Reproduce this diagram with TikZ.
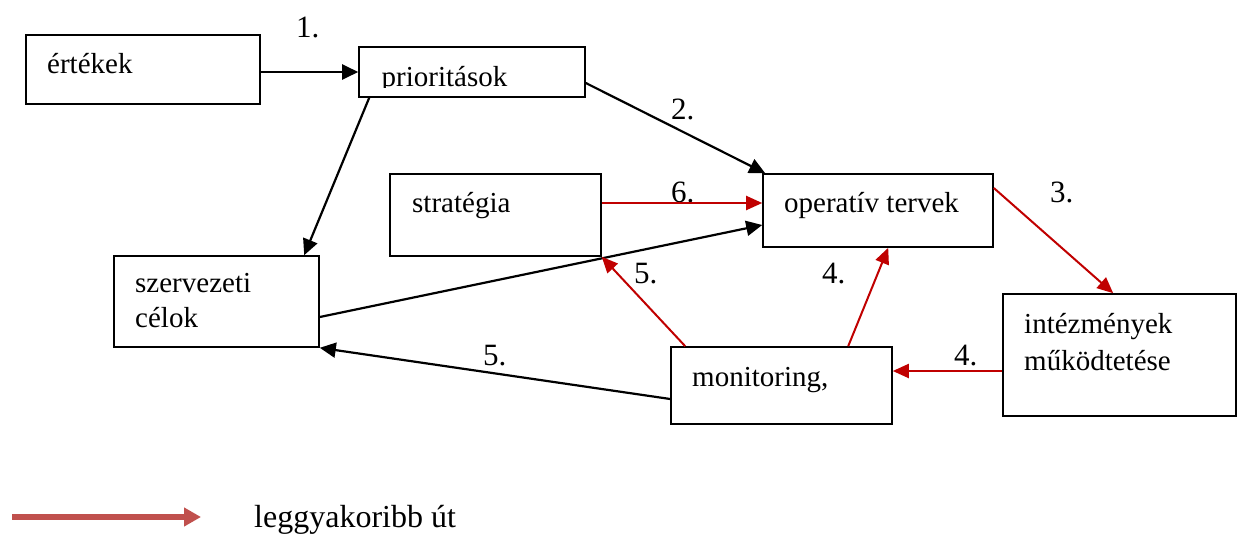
\documentclass[tikz,border=0pt]{standalone}
\usepackage{fontspec}
\setmainfont{Liberation Serif}
\usetikzlibrary{arrows.meta}
\definecolor{pathred}{HTML}{C00000}
\definecolor{legendred}{HTML}{C0504D}

\begin{document}
\begin{tikzpicture}[
  x=1pt, y=-1pt,
  box/.style = {draw, line width=1.6pt, rectangle, inner sep=0pt},
  txt/.style = {anchor=base west, inner sep=0pt, font=\fontsize{29}{34}\selectfont},
  num/.style = {anchor=base west, inner sep=0pt, font=\fontsize{31}{36}\selectfont},
  link/.style = {line width=2.2pt, -{Triangle[length=16pt, width=15pt]}},
  hot/.style = {line width=2pt, pathred, -{Triangle[length=16pt, width=14pt]}}
  ]
  \useasboundingbox (0,0) rectangle (1240,533);

  % boxes
  \node[box, minimum width=234, minimum height=69]  (ertekek) at (143,69.5)   {};
  \node[box, minimum width=226, minimum height=50]  (prior)   at (472,72)     {};
  \node[box, minimum width=211, minimum height=82]  (strat)   at (495.5,215)  {};
  \node[box, minimum width=205, minimum height=91]  (szerv)   at (216.5,301.5) {};
  \node[box, minimum width=230, minimum height=73]  (oper)    at (878,210.5)  {};
  \node[box, minimum width=233, minimum height=122] (intez)   at (1119.5,355) {};
  \node[box, minimum width=221, minimum height=77]  (monit)   at (781.5,385.5) {};

  % texts
  \node[txt] (ertekek-t) at (47,73) {értékek};
  \begin{scope}
    \clip (359,47) rectangle (585,87);
    \node[txt] (prior-t) at (381.5,86) {prioritások};
  \end{scope}
  \node[txt] (strat-t)  at (412,212)  {stratégia};
  \node[txt] (szerv-t1) at (135,292)  {szervezeti};
  \node[txt] (szerv-t2) at (135,327)  {célok};
  \node[txt] (oper-t)   at (784,212)  {operatív tervek};
  \node[txt] (intez-t1) at (1024,333) {intézmények};
  \node[txt] (intez-t2) at (1024,370) {működtetése};
  \node[txt] (monit-t)  at (692,386)  {monitoring,};

  % step numbers
  \node[num] (n1)  at (296,37)   {1.};
  \node[num] (n2)  at (671,119)  {2.};
  \node[num] (n6)  at (671,202)  {6.};
  \node[num] (n3)  at (1050,202) {3.};
  \node[num] (n5a) at (634,283)  {5.};
  \node[num] (n4a) at (822,283)  {4.};
  \node[num] (n4b) at (954,365)  {4.};
  \node[num] (n5b) at (483,365)  {5.};

  % connectors
  \draw[link] (ertekek.east |- prior.west) -- (prior.west);
  \draw[link] ([shift={(11,0)}]prior.south west) -- ([shift={(191,0)}]szerv.north west);
  \draw[link] ([shift={(0,11)}]prior.east) -- ([shift={(3,0)}]oper.north west);
  \draw[hot]  ([shift={(0,-12)}]strat.east) -- ([shift={(0,-7.5)}]oper.west);
  \draw[link] ([shift={(0,15.5)}]szerv.east) -- ([shift={(0,14.5)}]oper.west);
  \draw[hot]  ([shift={(0,-22.5)}]oper.east) -- ([shift={(111,0)}]intez.north west);
  \draw[hot]  ([shift={(0,16)}]intez.west) -- ([shift={(0,-14.5)}]monit.east);
  \draw[hot]  ([shift={(178,0)}]monit.north west) -- ([shift={(126,0)}]oper.south west);
  \draw[hot]  ([shift={(15,0)}]monit.north west) -- (strat.south east);
  \draw[link] ([shift={(0,13.5)}]monit.west) -- (szerv.south east);

  % legend
  \coordinate (leg-a) at (12,517);
  \coordinate (leg-b) at (201,517);
  \draw[legendred, line width=6pt, -{Triangle[length=17pt, width=18pt]}] (leg-a) -- (leg-b);
  \node[txt, font=\fontsize{32}{36}\selectfont] (leg) at (254,527) {leggyakoribb út};
\end{tikzpicture}
\end{document}
